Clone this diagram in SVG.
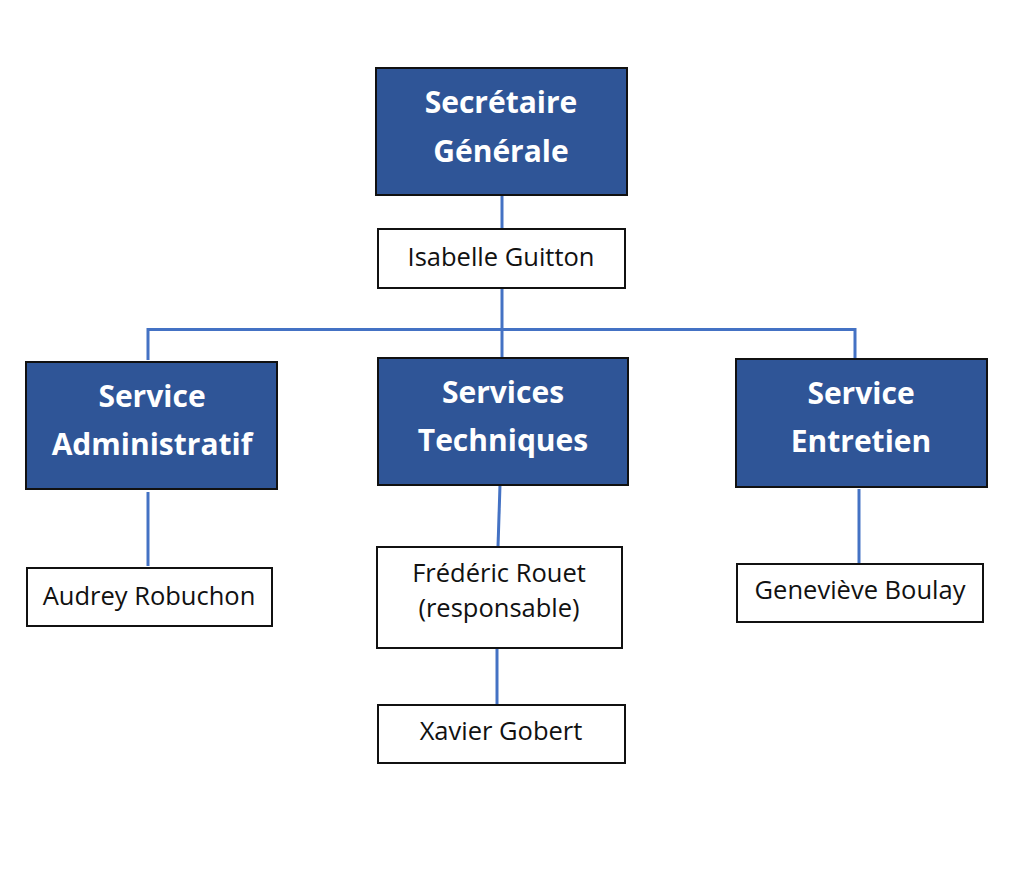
<svg xmlns="http://www.w3.org/2000/svg" width="1016" height="884" viewBox="0 0 1016 884">
<style>
.hd rect{fill:#2F5597;stroke:#111;stroke-width:2}
.hd text{fill:#fff;font-family:"Open Sans","Liberation Sans",sans-serif;font-weight:bold;font-size:30px;text-anchor:middle}
.pn rect{fill:#fff;stroke:#111;stroke-width:2}
.pn text{fill:#111;font-family:"Open Sans","Liberation Sans",sans-serif;font-size:25.5px;text-anchor:middle}
.cn{fill:none;stroke:#4472C4;stroke-width:3}
</style>
<rect width="1016" height="884" fill="#fff"/>
<g id="connectors" class="cn">
<path d="M502,195 V229"/>
<path d="M502,288 V358"/>
<path d="M148,360 V329.5 H855 V358"/>
<path d="M148,492 V566"/>
<path d="M500,485 L498,547"/>
<path d="M497,648 V705"/>
<path d="M859,489 V564"/>
</g>
<g id="secretaire" class="hd">
<rect x="376" y="68" width="251" height="127"/>
<text x="501" y="113">Secrétaire</text>
<text x="501" y="162">Générale</text>
</g>
<g id="isabelle" class="pn">
<rect x="378" y="229" width="247" height="59"/>
<text x="501" y="266">Isabelle Guitton</text>
</g>
<g id="admin" class="hd">
<rect x="26" y="362" width="251" height="127"/>
<text x="152" y="407">Service</text>
<text x="152" y="455">Administratif</text>
</g>
<g id="techniques" class="hd">
<rect x="378" y="358" width="250" height="127"/>
<text x="503" y="403">Services</text>
<text x="503" y="451">Techniques</text>
</g>
<g id="entretien" class="hd">
<rect x="736" y="359" width="251" height="128"/>
<text x="861" y="404">Service</text>
<text x="861" y="452">Entretien</text>
</g>
<g id="audrey" class="pn">
<rect x="27" y="568" width="245" height="58"/>
<text x="149" y="605">Audrey Robuchon</text>
</g>
<g id="frederic" class="pn">
<rect x="377" y="547" width="245" height="101"/>
<text x="499" y="582">Frédéric Rouet</text>
<text x="499" y="617">(responsable)</text>
</g>
<g id="xavier" class="pn">
<rect x="378" y="705" width="247" height="58"/>
<text x="501" y="740">Xavier Gobert</text>
</g>
<g id="genevieve" class="pn">
<rect x="737" y="564" width="246" height="58"/>
<text x="860" y="599">Geneviève Boulay</text>
</g>
</svg>
